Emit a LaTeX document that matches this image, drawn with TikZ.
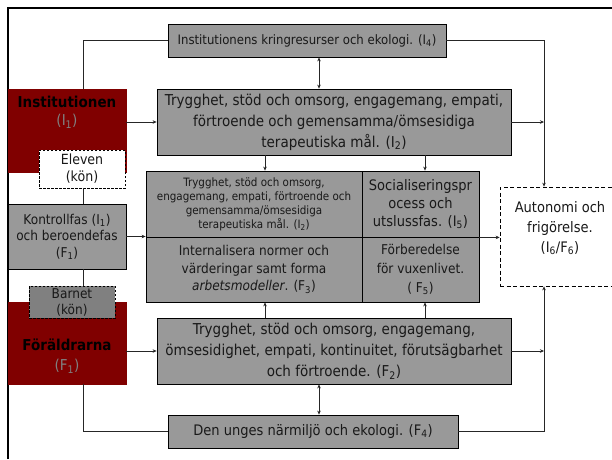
\documentclass[tikz,border=0pt]{standalone}
\usepackage{fontspec}
\setmainfont{DejaVu Sans}[FakeStretch=0.9]
\usetikzlibrary{arrows.meta}
\definecolor{boxgray}{RGB}{153,153,153}
\definecolor{darkgray2}{RGB}{128,128,128}
\definecolor{darkred2}{RGB}{128,0,0}
\definecolor{txt}{RGB}{25,25,25}
\newcommand{\fs}[2]{\fontsize{#1}{#2}\selectfont}
\newcommand{\sbs}[1]{\textsubscript{#1}}
\begin{document}
\begin{tikzpicture}[x=1pt,y=-1pt,
  box/.style={draw=black,line width=0.8pt,fill=boxgray,inner sep=0pt,align=center,text=txt},
  redbox/.style={draw=darkred2,fill=darkred2,inner sep=0pt},
  dbox/.style={draw=black,line width=0.7pt,dash pattern=on 2.5pt off 1.5pt,inner sep=0pt,align=center,text=txt},
  conn/.style={draw=black!85,line width=0.6pt},
  arr/.style={conn,-{Stealth[length=4pt,width=3.5pt]}},
  darr/.style={conn,{Stealth[length=4pt,width=3.5pt]}-{Stealth[length=4pt,width=3.5pt]}}
]
\useasboundingbox (0,0) rectangle (612,459);
\fill[white] (0,0) rectangle (612,459);
% frame
\draw[line width=2.8pt] (8,459) -- (8,8) -- (612,8);

% column coordinates
\coordinate (cl) at (83,0);
\coordinate (cm) at (319,0);
\coordinate (ca) at (265,0);
\coordinate (cb) at (425,0);
\coordinate (cr) at (544,0);

% top box
\node[box,minimum width=278pt,minimum height=33pt,font=\fs{13}{15}] (i4) at (307,40.5)
  {Institutionens kringresurser och ekologi. (I\sbs{4})};
% I2 box
\node[box,minimum width=354pt,minimum height=66pt,font=\fs{15}{21}] (i2) at (334,122)
  {Trygghet, stöd och omsorg, engagemang, empati,\\förtroende och gemensamma/ömsesidiga\\terapeutiska mål. (I\sbs{2})};
% middle block
\node[box,minimum width=216pt,minimum height=66pt,font=\fs{11.5}{14}] (mtl) at (254,204)
  {Trygghet, stöd och omsorg,\\engagemang, empati, förtroende och\\gemensamma/ömsesidiga\\terapeutiska mål. (I\sbs{2})};
\node[box,minimum width=216pt,minimum height=65pt,font=\fs{13.5}{17.5}] (mbl) at (254,269.5)
  {Internalisera normer och\\värderingar samt forma\\\textit{arbetsmodeller}. (F\sbs{3})};
\node[box,minimum width=117pt,minimum height=66pt,font=\fs{14.5}{18}] (mtr) at (420.5,204)
  {Socialiseringspr\\ocess och\\utslussfas. (I\sbs{5})};
\node[box,minimum width=117pt,minimum height=65pt,font=\fs{13.5}{19}] (mbr) at (420.5,269.5)
  {Förberedelse\\för vuxenlivet.\\( F\sbs{5})};
% F2 box
\node[box,minimum width=354pt,minimum height=66pt,font=\fs{15}{21}] (f2) at (334,351)
  {Trygghet, stöd och omsorg, engagemang,\\ömsesidighet, empati, kontinuitet, förutsägbarhet\\och förtroende. (F\sbs{2})};
% F4 box
\node[box,minimum width=290pt,minimum height=33pt,font=\fs{14.5}{16}] (f4) at (313,431.5)
  {Den unges närmiljö och ekologi. (F\sbs{4})};
% Autonomi
\node[dbox,fill=white,dash pattern=on 4pt off 2.5pt,minimum width=120pt,minimum height=99pt] (auto) at (560,236.5) {};
\node[align=center,inner sep=0pt,text=txt,font=\fs{14.5}{20}] (autotxt) at (560,228)
  {Autonomi och\\frigörelse.\\(I\sbs{6}/F\sbs{6})};

% left column
\node[redbox,minimum width=118pt,minimum height=83pt] (inst) at (67,130.5) {};
\node[align=center,inner sep=0pt,font=\fs{15}{18}] (insttxt) at (67,112)
  {\textbf{Institutionen}\\\textcolor{darkgray2}{(I\sbs{1})}};
\node[dbox,fill=white,minimum width=86pt,minimum height=38pt,font=\fs{14}{17}] (eleven) at (82,169)
  {Eleven\\(kön)};
\node[box,minimum width=118pt,minimum height=65pt,font=\fs{13.5}{16.5}] (kontroll) at (67,236.5)
  {Kontrollfas (I\sbs{1})\\och beroendefas\\(F\sbs{1})};
\node[redbox,minimum width=118pt,minimum height=82pt] (foral) at (67,343) {};
\node[dbox,fill=darkgray2,minimum width=86pt,minimum height=32pt,font=\fs{13.5}{16}] (barnet) at (72,302)
  {Barnet\\(kön)};
\node[align=center,inner sep=0pt,font=\fs{15}{20}] (foraltxt) at (67,356)
  {\textbf{Föräldrarna}\\\textcolor{darkgray2}{(F\sbs{1})}};

% connectors
\draw[conn] (i4.west) -| (cl |- inst.north);
\draw[conn] (cl |- eleven.south) -- (cl |- kontroll.north);
\draw[conn] (cl |- kontroll.south) -- (cl |- barnet.north);
\draw[conn] (cl |- foral.south) |- (f4.west);
\draw[darr] (cm |- i4.south) -- (cm |- i2.north);
\draw[darr] (cm |- f2.south) -- (cm |- f4.north);
\draw[arr] (inst.east |- i2.west) -- (i2.west);
\draw[arr] (foral.east |- f2.west) -- (f2.west);
\draw[arr] (kontroll.east) -- (kontroll.east -| mtl.west);
\draw[arr] (ca |- i2.south) -- (ca |- mtl.north);
\draw[arr] (cb |- i2.south) -- (cb |- mtr.north);
\draw[arr] (ca |- f2.north) -- (ca |- mbl.south);
\draw[arr] (cb |- f2.north) -- (cb |- mbr.south);
\draw[arr] (mtr.south east) -- (mtr.south east -| auto.west);
\draw[arr] (i2.east) -- (cr |- i2.east);
\draw[arr] (f2.east) -- (cr |- f2.east);
\draw[arr] (i4.east) -| (cr |- auto.north);
\draw[arr] (f4.east) -| (cr |- auto.south);
\end{tikzpicture}
\end{document}
